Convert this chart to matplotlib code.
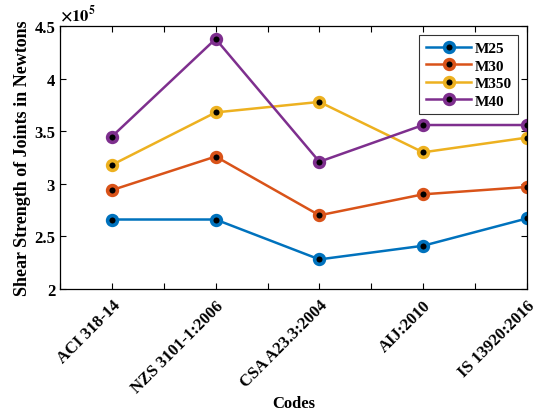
import matplotlib
matplotlib.use("Agg")
import matplotlib.pyplot as plt
from matplotlib.ticker import FuncFormatter

plt.rcParams['font.family'] = ['Liberation Serif', 'DejaVu Serif']
plt.rcParams['font.weight'] = 'bold'
plt.rcParams['mathtext.fontset'] = 'stix'

# data (x1e5 N) ------------------------------------------------------------
codes = ["ACI 318-14", "NZS 3101-1:2006", "CSA A23.3:2004", "AIJ:2010", "IS 13920:2016"]
m25  = [2.66, 2.66, 2.28, 2.41, 2.67]
m30  = [2.94, 3.26, 2.70, 2.90, 2.97]
m350 = [3.18, 3.68, 3.78, 3.30, 3.44]
m40  = [3.45, 4.38, 3.21, 3.56, 3.56]
series = [("M25", m25, "#0072BD"), ("M30", m30, "#D95319"),
          ("M350", m350, "#EDB120"), ("M40", m40, "#7E2F8E")]

fig = plt.figure(figsize=(5.36, 4.14), dpi=100)
ax = fig.add_axes([0.112, 0.30, 0.871, 0.634])

x = list(range(1, len(codes) + 1))
for name, vals, col in series:
    ax.plot(x, vals, color=col, lw=1.8, marker="o", ms=7, mfc="black",
            mec=col, mew=2.6, label=name)

ax.set_xlim(0.5, 5)
ax.set_ylim(2, 4.5)
ax.set_xticks([0.5 + 0.5*i for i in range(10)])
ax.set_xticklabels(["" if (0.5 + 0.5*i) % 1 else codes[int(0.5 + 0.5*i) - 1]
                    for i in range(10)],
                   rotation=45, ha="right", rotation_mode="anchor", fontsize=11.5)
ax.set_yticks([2, 2.5, 3, 3.5, 4, 4.5])
ax.yaxis.set_major_formatter(FuncFormatter(lambda v, p: f"{v:g}"))
ax.tick_params(direction="in", top=True, right=True, length=4, width=0.8,
               labelsize=12)
ax.tick_params(axis="x", pad=6)
for lab in ax.get_xticklabels() + ax.get_yticklabels():
    lab.set_fontweight("bold")
for s in ax.spines.values():
    s.set_linewidth(0.9)

ax.text(0, 1.01, r"$\times10^5$", transform=ax.transAxes, ha="left",
        va="bottom", fontsize=12)

ax.set_ylabel("Shear Strength of Joints in Newtons", fontsize=13, fontweight="bold",
              labelpad=2)
ax.set_xlabel("Codes", fontsize=12, fontweight="bold", labelpad=0)

leg = ax.legend(loc="upper right", fontsize=11, frameon=True, fancybox=False,
                edgecolor="black", handlelength=3.0, borderaxespad=0.6,
                labelspacing=0.25, borderpad=0.4, handletextpad=0.2)
leg.get_frame().set_linewidth(0.8)
for t in leg.get_texts():
    t.set_fontweight("bold")

fig.savefig("out.png", dpi=100)
